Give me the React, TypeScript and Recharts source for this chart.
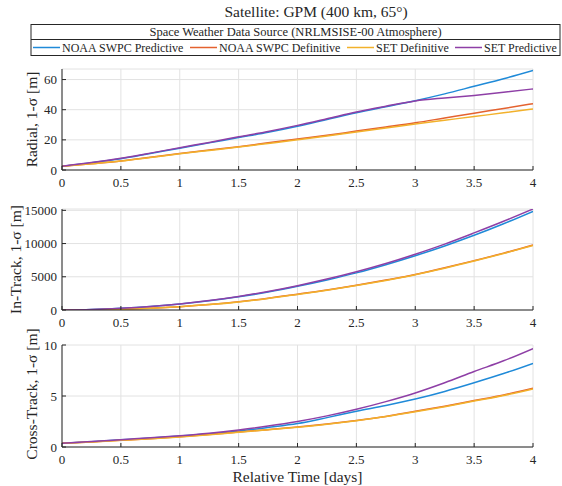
import React from 'react';
import { LineChart, Line, XAxis, YAxis, CartesianGrid } from 'recharts';

const FONT = '"Liberation Serif", "Times New Roman", serif';
const AX = '#262626';
const GRID = '#e2e2e2';

const seriesNames = ['NOAA SWPC Predictive', 'NOAA SWPC Definitive', 'SET Definitive', 'SET Predictive'];
const seriesKeys = ['noaaPred', 'noaaDef', 'setDef', 'setPred'];
const seriesColors = ['#1f8ad8', '#e4622f', '#f2b12b', '#8e3fa6'];

const time = [0, 0.25, 0.5, 0.75, 1, 1.25, 1.5, 1.75, 2, 2.25, 2.5, 2.75, 3, 3.25, 3.5, 3.75, 4];
const xTicks = [0, 0.5, 1, 1.5, 2, 2.5, 3, 3.5, 4];

// Radial 1-sigma [m]
const radialNoaaPred = [2.5, 4.8, 7.5, 11, 14.5, 18, 21.5, 25, 29, 33.5, 38, 42, 46, 50.5, 55.5, 60.5, 66];
const radialNoaaDef = [2.5, 4.2, 6, 8.5, 11, 13.2, 15.5, 18, 20.5, 23, 25.8, 28.5, 31.3, 34.5, 37.7, 40.8, 44];
const radialSetDef = [2.5, 4.1, 5.9, 8.3, 10.8, 13, 15.2, 17.6, 20, 22.5, 25.2, 27.8, 30.5, 33, 35.5, 37.9, 40.5];
const radialSetPred = [2.5, 4.9, 7.8, 11.2, 14.8, 18.3, 22, 25.6, 29.6, 34, 38.5, 42.3, 45.8, 47.8, 49.5, 51.5, 53.8];
const radialTicks = [0, 20, 40, 60];

// In-Track 1-sigma [m]
const inNoaaPred = [0, 60, 250, 520, 890, 1380, 1980, 2700, 3560, 4520, 5590, 6820, 8170, 9640, 11240, 12980, 14850];
const inNoaaDef = [0, 25, 100, 260, 500, 820, 1240, 1760, 2380, 3000, 3710, 4500, 5350, 6350, 7430, 8560, 9800];
const inSetDef = [0, 25, 100, 255, 490, 810, 1220, 1740, 2350, 2970, 3670, 4450, 5300, 6280, 7360, 8500, 9700];
const inSetPred = [0, 65, 260, 540, 920, 1420, 2040, 2790, 3660, 4650, 5760, 7000, 8400, 9920, 11600, 13350, 15200];
const inTicks = [0, 5000, 10000, 15000];

// Cross-Track 1-sigma [m]
const crossNoaaPred = [0.37, 0.52, 0.7, 0.88, 1.07, 1.3, 1.58, 1.92, 2.3, 2.88, 3.5, 4.07, 4.7, 5.45, 6.3, 7.2, 8.2];
const crossNoaaDef = [0.37, 0.5, 0.66, 0.82, 1.0, 1.22, 1.47, 1.7, 1.95, 2.25, 2.6, 3.0, 3.5, 4.0, 4.55, 5.1, 5.75];
const crossSetDef = [0.37, 0.5, 0.65, 0.81, 0.98, 1.2, 1.45, 1.68, 1.93, 2.22, 2.57, 2.98, 3.45, 3.95, 4.5, 5.05, 5.7];
const crossSetPred = [0.37, 0.53, 0.72, 0.9, 1.1, 1.35, 1.67, 2.05, 2.5, 3.05, 3.7, 4.45, 5.3, 6.3, 7.4, 8.45, 9.65];
const crossTicks = [0, 5, 10];

const build = (a: number[], b: number[], c: number[], d: number[]) =>
  time.map((t, i) => ({ t, noaaPred: a[i], noaaDef: b[i], setDef: c[i], setPred: d[i] }));

const radialData = build(radialNoaaPred, radialNoaaDef, radialSetDef, radialSetPred);
const inData = build(inNoaaPred, inNoaaDef, inSetDef, inSetPred);
const crossData = build(crossNoaaPred, crossNoaaDef, crossSetDef, crossSetPred);

const XTick = (props: any) => {
  const { x, y, payload } = props;
  return (
    <text x={x} y={y + 11} textAnchor="middle" fontFamily={FONT} fontSize={13} fill={AX}>
      {String(payload.value)}
    </text>
  );
};

const YTick = (props: any) => {
  const { x, y, payload } = props;
  return (
    <text x={x} y={y + 4.5} textAnchor="end" fontFamily={FONT} fontSize={13} fill={AX}>
      {String(payload.value)}
    </text>
  );
};

type PanelProps = {
  data: any[];
  top: number;
  height: number;
  domain: [number, number];
  ticks: number[];
};

const Panel = ({ data, top, height, domain, ticks }: PanelProps) => (
  <div style={{ position: 'absolute', left: 0, top }}>
    <LineChart width={562} height={height} data={data} margin={{ top: 9, right: 29, bottom: 0, left: 32 }}>
      <CartesianGrid stroke={GRID} strokeWidth={1} />
      <XAxis
        dataKey="t"
        type="number"
        domain={[0, 4]}
        ticks={xTicks}
        height={20}
        tickSize={-4}
        tickMargin={10}
        stroke={AX}
        tick={<XTick />}
        allowDataOverflow
      />
      <YAxis
        type="number"
        domain={domain}
        ticks={ticks}
        width={30}
        tickSize={-4}
        tickMargin={9}
        stroke={AX}
        tick={<YTick />}
        allowDataOverflow
      />
      {seriesKeys.map((k, i) => (
        <Line
          key={k}
          dataKey={k}
          name={seriesNames[i]}
          stroke={seriesColors[i]}
          strokeWidth={1.5}
          dot={false}
          type="monotone"
          isAnimationActive={false}
        />
      ))}
    </LineChart>
  </div>
);

const legendLayout = [
  { lx: 33, tx: 62 },
  { lx: 190, tx: 219 },
  { lx: 347, tx: 376 },
  { lx: 455, tx: 484 },
];

export default function App() {
  return (
    <div style={{ position: 'absolute', left: 0, top: 0, width: 562, height: 486, background: '#fff' }}>
      <Panel data={radialData} top={60} height={130} domain={[0, 67]} ticks={radialTicks} />
      <Panel data={inData} top={200} height={130} domain={[0, 15200]} ticks={inTicks} />
      <Panel data={crossData} top={336} height={131} domain={[0, 10]} ticks={crossTicks} />
      <svg
        width={562}
        height={486}
        style={{ position: 'absolute', left: 0, top: 0, pointerEvents: 'none' }}
        fontFamily={FONT}
      >
        <text x={316} y={17} textAnchor="middle" fontSize={15.5} fill={AX}>
          Satellite: GPM (400 km, 65°)
        </text>
        <rect x={31} y={24.5} width={529} height={31} fill="#fff" stroke={AX} strokeWidth={1} />
        <line x1={31} x2={560} y1={39.5} y2={39.5} stroke={AX} strokeWidth={1} />
        <text x={295.5} y={36} textAnchor="middle" fontSize={12.5} fill={AX}>
          Space Weather Data Source (NRLMSISE-00 Atmosphere)
        </text>
        {seriesNames.map((n, i) => (
          <g key={n}>
            <line
              x1={legendLayout[i].lx}
              x2={legendLayout[i].lx + 27}
              y1={47.5}
              y2={47.5}
              stroke={seriesColors[i]}
              strokeWidth={1.5}
            />
            <text x={legendLayout[i].tx} y={52} fontSize={12} fill={AX}>
              {n}
            </text>
          </g>
        ))}
        <text transform="translate(37,119.5) rotate(-90)" textAnchor="middle" fontSize={15.5} fill={AX}>
          Radial, 1-σ [m]
        </text>
        <text transform="translate(21,259.5) rotate(-90)" textAnchor="middle" fontSize={15.5} fill={AX}>
          In-Track, 1-σ [m]
        </text>
        <text transform="translate(37,394) rotate(-90)" textAnchor="middle" fontSize={15.5} fill={AX}>
          Cross-Track, 1-σ [m]
        </text>
        <text x={297.5} y={482} textAnchor="middle" fontSize={15.5} fill={AX}>
          Relative Time [days]
        </text>
      </svg>
    </div>
  );
}
